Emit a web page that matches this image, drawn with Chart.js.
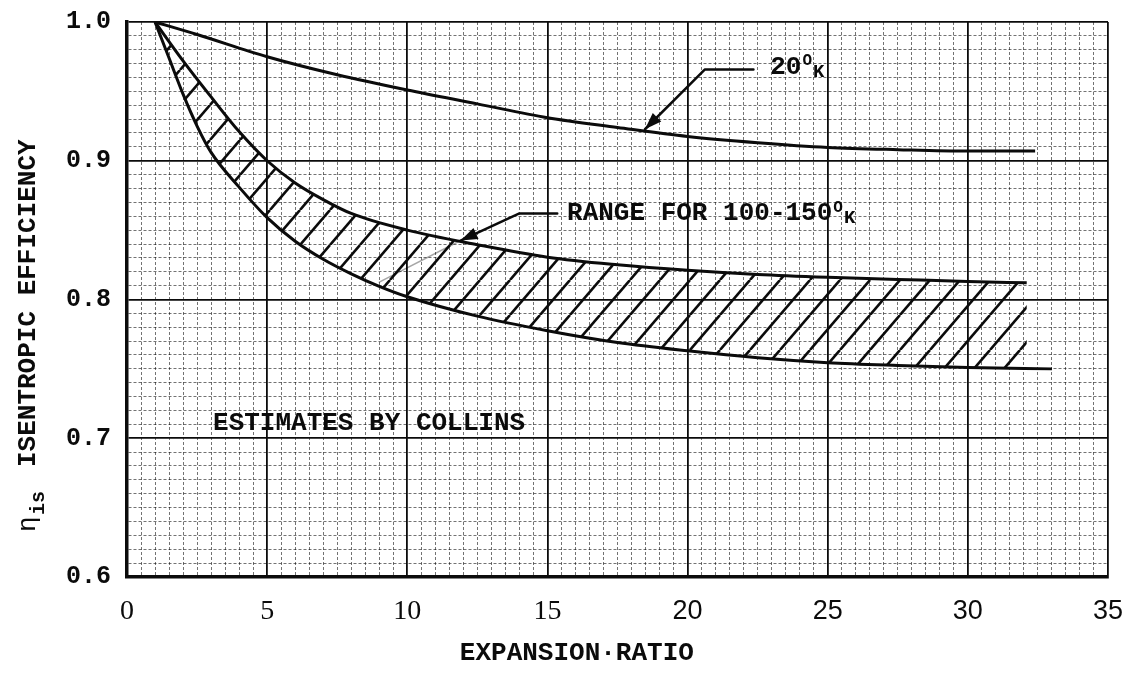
<!DOCTYPE html>
<html>
<head>
<meta charset="utf-8">
<script src="https://cdn.jsdelivr.net/npm/chart.js@4.4.1/dist/chart.umd.min.js"></script>
<style>
  html, body { margin: 0; padding: 0; background: #fff; }
  #wrap { width: 1128px; height: 680px; position: relative; }
</style>
</head>
<body>
<div id="wrap"><canvas id="chart"></canvas></div>
<script>
// expansion ratio vs isentropic efficiency
const ratio20K = [1, 2.5, 5, 7.5, 10, 12.5, 15, 17.5, 20, 22.5, 25, 27.5, 30, 32.4];
const eff20K = [1.0, 0.991, 0.975, 0.962, 0.951, 0.941, 0.931, 0.924, 0.9175, 0.913, 0.9096, 0.908, 0.907, 0.907];

const ratioBandTop = [1, 2, 3, 4, 5, 6, 7, 8, 10, 12.5, 15, 17.5, 20, 22.5, 25, 27.5, 30, 32.1];
const effBandTop = [1.0, 0.972, 0.946, 0.921, 0.900, 0.884, 0.872, 0.862, 0.850, 0.8395, 0.8305, 0.825, 0.821, 0.818, 0.816, 0.8145, 0.813, 0.812];

const ratioBandLow = [1, 1.5, 2, 2.5, 3, 4, 5, 6, 7, 8, 9, 10, 12.5, 15, 17.5, 20, 22.5, 25, 27.5, 30, 33];
const effBandLow = [1.0, 0.974, 0.948, 0.925, 0.906, 0.881, 0.859, 0.842, 0.829, 0.8185, 0.8095, 0.802, 0.788, 0.7775, 0.769, 0.763, 0.758, 0.7545, 0.7525, 0.751, 0.750];

const xTickLabels = [0, 5, 10, 15, 20, 25, 30, 35];
const yTickLabels = ['0.6', '0.7', '0.8', '0.9', '1.0'];

const xTitle = 'EXPANSION\u00B7RATIO';
const yTitle = 'ISENTROPIC EFFICIENCY';

const ink = '#0b0b0b';
const minorInk = 'rgba(0,0,0,0.55)';
const mono = '"Liberation Mono", "DejaVu Sans Mono", monospace';

// annotation text runs: [text, font size, vertical shift in px]
const notes = [
  { at: [22.95, 0.9676], runs: [['20', 26, 0], ['O', 16, -6], ['K', 19, 5]] },
  { at: [15.7, 0.862], runs: [['RANGE FOR 100-150', 26, 0], ['O', 16, -6], ['K', 19, 5]] },
  { at: [3.07, 0.711], runs: [['ESTIMATES BY COLLINS', 26, 0]] }
];
const leaders = [
  { path: [[22.35, 0.9658], [20.62, 0.9658], [18.48, 0.9227]] },
  { path: [[15.35, 0.862], [14.0, 0.862], [11.9, 0.8425]], faint: [9.0, 0.8125] }
];

const toPoints = (xs, ys) => xs.map((x, i) => ({ x, y: ys[i] }));
const isMajorX = v => Math.abs(v / 5 - Math.round(v / 5)) < 1e-6;
const isMajorY = v => Math.abs(v * 10 - Math.round(v * 10)) < 1e-6;

function hatchPattern() {
  const w = 30, h = 35;
  const tile = document.createElement('canvas');
  tile.width = w; tile.height = h;
  const c = tile.getContext('2d');
  c.strokeStyle = ink;
  c.lineWidth = 2.6;
  [-w, 0, w].forEach(off => {
    c.beginPath();
    c.moveTo(off, h);
    c.lineTo(off + w, 0);
    c.stroke();
  });
  return c.createPattern(tile, 'repeat');
}

function drawArrowHead(ctx, from, tip) {
  const ang = Math.atan2(tip[1] - from[1], tip[0] - from[0]);
  const len = 17, half = 6;
  ctx.beginPath();
  ctx.moveTo(tip[0], tip[1]);
  ctx.lineTo(tip[0] - len * Math.cos(ang) + half * Math.sin(ang), tip[1] - len * Math.sin(ang) - half * Math.cos(ang));
  ctx.lineTo(tip[0] - len * Math.cos(ang) - half * Math.sin(ang), tip[1] - len * Math.sin(ang) + half * Math.cos(ang));
  ctx.closePath();
  ctx.fill();
}

const annotate = {
  id: 'annotate',
  afterDraw(chart) {
    const { ctx, chartArea, scales: { x, y } } = chart;
    const P = ([a, b]) => [x.getPixelForValue(a), y.getPixelForValue(b)];
    ctx.save();
    ctx.fillStyle = ink;
    ctx.strokeStyle = ink;
    ctx.lineJoin = 'round';
    ctx.lineCap = 'round';

    leaders.forEach(l => {
      const pts = l.path.map(P);
      if (l.faint) {
        const f = P(l.faint);
        ctx.save();
        ctx.strokeStyle = 'rgba(0,0,0,0.35)';
        ctx.lineWidth = 1.5;
        ctx.beginPath();
        ctx.moveTo(pts[pts.length - 1][0], pts[pts.length - 1][1]);
        ctx.lineTo(f[0], f[1]);
        ctx.stroke();
        ctx.restore();
      }
      ctx.lineWidth = 2.5;
      ctx.beginPath();
      pts.forEach((p, i) => i ? ctx.lineTo(p[0], p[1]) : ctx.moveTo(p[0], p[1]));
      ctx.stroke();
      drawArrowHead(ctx, pts[pts.length - 2], pts[pts.length - 1]);
    });

    ctx.textBaseline = 'middle';
    ctx.textAlign = 'left';
    notes.forEach(n => {
      let [px, py] = P(n.at);
      n.runs.forEach(([text, size, dy]) => {
        ctx.font = `bold ${size}px ${mono}`;
        ctx.fillText(text, px, py + dy);
        px += ctx.measureText(text).width + 1;
      });
    });

    // x axis title
    ctx.textAlign = 'center';
    ctx.font = `bold 26px ${mono}`;
    ctx.fillText(xTitle, x.getPixelForValue(16.05), chartArea.bottom + 76);

    // y axis title, rotated, with eta subscript
    ctx.translate(chartArea.left - 92, chartArea.bottom - 45);
    ctx.rotate(-Math.PI / 2);
    ctx.textAlign = 'left';
    ctx.textBaseline = 'alphabetic';
    ctx.font = `26px ${mono}`;
    ctx.fillText('\u03B7', 0, 0);
    ctx.font = `bold 20px ${mono}`;
    ctx.fillText('is', 17, 9);
    ctx.font = `bold 26px ${mono}`;
    ctx.fillText(yTitle, 65, 0);
    ctx.restore();
  }
};

const pattern = hatchPattern();

const lineStyle = {
  showLine: true,
  borderColor: ink,
  borderWidth: 3,
  pointRadius: 0,
  cubicInterpolationMode: 'monotone'
};

const noMargins = s => { s.paddingLeft = s.paddingRight = s.paddingTop = s.paddingBottom = 0; };

new Chart(document.getElementById('chart'), {
  type: 'scatter',
  data: {
    datasets: [
      { ...lineStyle, label: '20 K', data: toPoints(ratio20K, eff20K), fill: false },
      { ...lineStyle, label: '100 K', data: toPoints(ratioBandTop, effBandTop), fill: false },
      { ...lineStyle, label: '150 K', data: toPoints(ratioBandLow, effBandLow),
        backgroundColor: pattern, fill: { target: 1, above: pattern, below: pattern } }
    ]
  },
  options: {
    responsive: true,
    maintainAspectRatio: false,
    animation: false,
    layout: { padding: { top: 22, right: 20, left: 0, bottom: 0 } },
    plugins: { legend: { display: false }, tooltip: { enabled: false } },
    scales: {
      x: {
        type: 'linear', min: 0, max: 35,
        afterFit: s => { s.height = 103; noMargins(s); },
        ticks: {
          stepSize: 0.5, autoSkip: false, maxRotation: 0, maxTicksLimit: 1000, padding: 18, color: ink,
          font: ctx => (ctx.tick && ctx.tick.value >= 20)
            ? { family: '"Liberation Sans", Arial, sans-serif', size: 27 }
            : { family: '"Liberation Serif", "Times New Roman", serif', size: 28 },
          callback: v => (isMajorX(v) && xTickLabels.includes(Math.round(v))) ? String(Math.round(v)) : ''
        },
        grid: {
          drawTicks: false,
          color: ctx => (ctx.tick && isMajorX(ctx.tick.value)) ? ink : minorInk,
          lineWidth: ctx => (ctx.tick && isMajorX(ctx.tick.value)) ? 1.8 : 1
        },
        border: { display: true, color: ink, width: 3.5, dash: ctx => (ctx.tick && !isMajorX(ctx.tick.value)) ? [3, 2] : [] }
      },
      y: {
        type: 'linear', min: 0.6, max: 1.0,
        afterFit: s => { s.width = 127; noMargins(s); },
        ticks: {
          stepSize: 0.01, autoSkip: false, maxTicksLimit: 1000, padding: 16, color: ink,
          font: { family: mono, size: 25, weight: 'bold' },
          callback: v => {
            if (!isMajorY(v)) return '';
            const t = v.toFixed(1);
            return yTickLabels.includes(t) ? t : '';
          }
        },
        grid: {
          drawTicks: false,
          color: ctx => (ctx.tick && isMajorY(ctx.tick.value)) ? ink : minorInk,
          lineWidth: ctx => (ctx.tick && isMajorY(ctx.tick.value)) ? 1.8 : 1
        },
        border: { display: true, color: ink, width: 3.5, dash: ctx => (ctx.tick && !isMajorY(ctx.tick.value)) ? [3, 2] : [] }
      }
    }
  },
  plugins: [annotate]
});
</script>
</body>
</html>
